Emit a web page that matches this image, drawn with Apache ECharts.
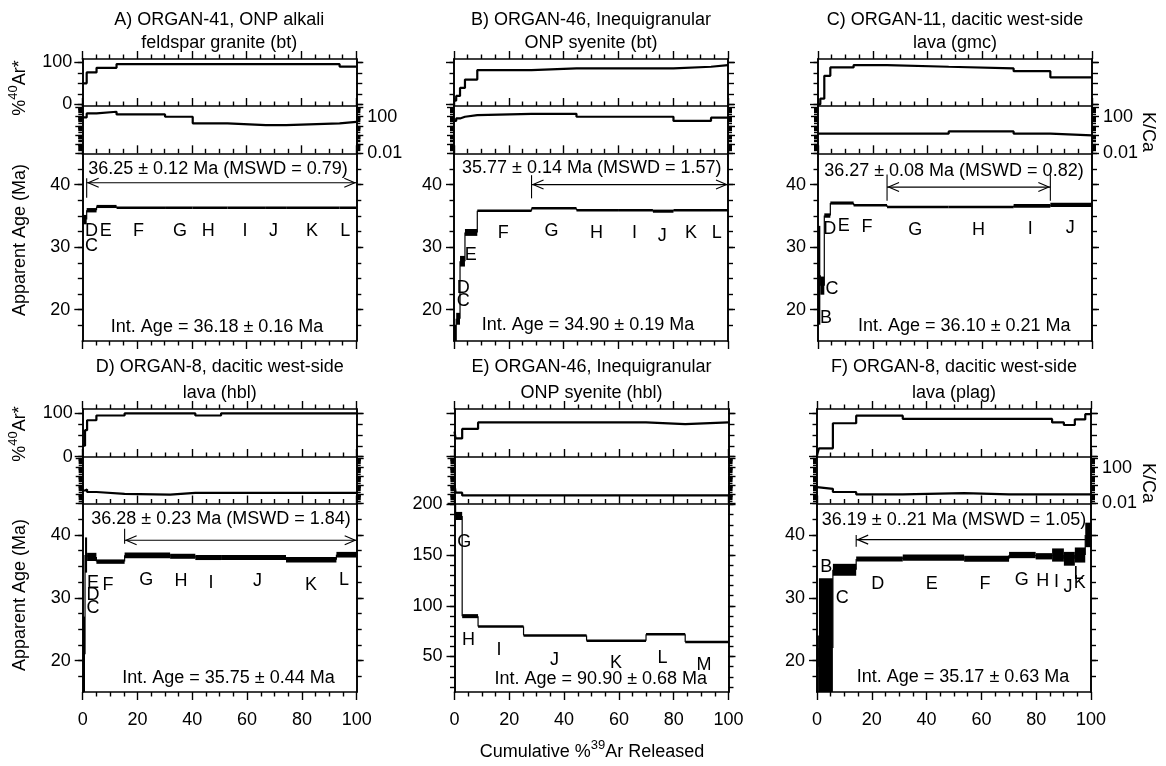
<!DOCTYPE html>
<html><head><meta charset="utf-8">
<script src="https://cdn.jsdelivr.net/npm/echarts@6/dist/echarts.min.js"></script>
<style>html,body{margin:0;padding:0;background:#fff}#c{width:1166px;height:766px}</style>
</head><body><div id="c"></div>
<script>
// ---------------- DATA ----------------
// Panel A
const A_bounds = [0, 1.6, 5.2, 12.5, 30.2, 40.3, 53, 67, 74.4, 93.9, 100];
const A_age = [34.4, 35.9, 36.5, 36.3, 36.3, 36.3, 36.3, 36.3, 36.3, 36.3];
const A_err = [0.75, 0.35, 0.25, 0.15, 0.15, 0.15, 0.15, 0.15, 0.15, 0.15];
const A_ar40 = [50, 76, 87, 96, 96, 96, 96, 96, 96, 90];
const A_kca = [85, 230, 350, 180, 100, 19, 12, 12, 19, 28];
const A_letters = ['C','D','E','F','G','H','I','J','K','L'];
const A_letterPos = [[3.4,30.2],[3.4,32.6],[8.6,32.6],[20.5,32.6],[35.7,32.6],[46,32.6],[59.4,32.6],[69.8,32.6],[83.8,32.6],[96,32.6]];
const A_plateau = [1.6, 100, 40.3, 41.0, 37.9, 1, 1, 1, 0];
const A_plateauText = '36.25 ± 0.12 Ma (MSWD = 0.79)';
const A_intText = 'Int. Age = 36.18 ± 0.16 Ma';
const A_textPos = [[49.5, 42.5], [49.2, 17.3]];

// Panel B
const B_bounds = [0, 0.8, 2.2, 4.0, 8.5, 28.3, 44.7, 60.2, 72.6, 80.1, 93.8, 100];
const B_age = [12, 18.55, 27.75, 32.35, 35.8, 36.2, 35.9, 35.9, 35.75, 35.9, 35.9];
const B_err = [5.6, 0.95, 0.85, 0.55, 0.15, 0.15, 0.15, 0.15, 0.25, 0.15, 0.15];
const B_ar40 = [9, 20, 39, 59, 81.5, 85.5, 85.5, 85.5, 85.5, 89.5, 93.5];
const B_kca = [35, 65, 100, 150, 210, 210, 100, 100, 100, 35, 80];
const B_letters = ['C','D','E','F','G','H','I','J','K','L'];
const B_letterPos = [[3.4,21.4],[3.4,23.5],[6.1,28.8],[18,32.2],[35.6,32.5],[52,32.2],[65.9,32.2],[76,31.85],[86.5,32.2],[95.9,32.2]];
const B_plateau = [28.3, 100, 40.0, 41.5, 37.8, 1, 1, 1, 0];
const B_plateauText = '35.77 ± 0.14 Ma (MSWD = 1.57)';
const B_intText = 'Int. Age = 34.90 ± 0.19 Ma';
const B_textPos = [[50.3, 42.7], [48.9, 17.5]];

// Panel C
const C_bounds = [0, 0.85, 2.3, 4.5, 13.0, 25.2, 47.7, 71.4, 84.8, 100];
const C_age = [25.5, 23.85, 35.05, 37.05, 36.7, 36.4, 36.4, 36.6, 36.75];
const C_err = [7.9, 1.45, 0.35, 0.25, 0.15, 0.15, 0.15, 0.3, 0.35];
const C_ar40 = [0, 13.5, 68, 88, 93.5, 89.5, 85.5, 79, 64];
const C_kca = [1.4, 1.4, 1.4, 1.4, 1.4, 1.4, 2.5, 1.4, 0.9];
const C_letters = ['B','C','D','E','F','G','H','I','J'];
const C_letterPos = [[2.9,18.7],[5.1,23.3],[4.3,32.9],[9.4,33.3],[17.9,33.2],[35.5,32.7],[58.6,32.7],[77.5,32.9],[92.1,33.05]];
const C_plateau = [25.2, 84.8, 39.6, 41.6, 37.4, 1, 1, 1, 1];
const C_plateauText = '36.27 ± 0.08 Ma (MSWD = 0.82)';
const C_intText = 'Int. Age = 36.10 ± 0.21 Ma';
const C_textPos = [[49.6, 42.2], [53.4, 17.4]];

// Panel D
const D_bounds = [0, 0.85, 1.6, 5.0, 15.3, 31.9, 41.1, 50.5, 74.2, 92.6, 100];
const D_age = [21, 36.8, 36.5, 35.75, 36.75, 36.6, 36.4, 36.4, 36.05, 36.85];
const D_err = [6, 2.8, 0.65, 0.35, 0.45, 0.4, 0.4, 0.4, 0.45, 0.45];
const D_ar40 = [25, 61, 84, 95, 100, 100, 95, 100, 100, 100];
const D_kca = [0.28, 0.36, 0.19, 0.12, 0.095, 0.15, 0.15, 0.15, 0.15, 0.15];
const D_letters = ['C','D','E','F','G','H','I','J','K','L'];
const D_letterPos = [[3.8,28.4],[3.8,30.5],[3.8,32.4],[9.2,32],[23.2,32.8],[35.9,32.7],[46.8,32.4],[63.8,32.7],[83.3,32.1],[95.4,32.8]];
const D_plateau = [15.3, 100, 39.15, 41.0, 38.6, 1, 1, 1, 0];
const D_plateauText = '36.28 ± 0.23 Ma (MSWD = 1.84)';
const D_intText = 'Int. Age = 35.75 ± 0.44 Ma';
const D_textPos = [[50.5, 42.55], [53.2, 17.2]];

// Panel E
const E_bounds = [0, 0.4, 2.8, 8.6, 25.2, 48.2, 69.9, 84.2, 100];
const E_age = [260, 188.7, 89.85, 79.7, 70.8, 65.6, 72, 64.3];
const E_err = [30, 4, 2, 1, 1, 1, 1, 1];
const E_ar40 = [58, 42, 64, 79, 79, 79, 75, 79];
const E_kca = [1.3, 0.16, 0.08, 0.08, 0.08, 0.08, 0.08, 0.08];
const E_letters = ['G','H','I','J','K','L','M'];
const E_letterPos = [[3.6,163.3],[5.1,66.6],[16.2,56.7],[36.5,46.9],[58.9,43.6],[75.9,48.5],[91.1,42]];
const E_plateau = null;
const E_plateauText = '';
const E_intText = 'Int. Age = 90.90 ± 0.68 Ma';
const E_textPos = [null, [53.4, 28.2]];

// Panel F
const F_bounds = [0, 0.7, 5.8, 14.3, 31.3, 53.7, 70.1, 79.8, 85.8, 90.1, 94.1, 97.9, 100];
const F_age = [19, 22, 34.45, 36.15, 36.4, 36.2, 36.8, 36.6, 36.8, 36.2, 36.8, 40.0];
const F_err = [5, 11.1, 0.95, 0.4, 0.5, 0.48, 0.5, 0.5, 1.05, 1.1, 1.2, 1.95];
const F_ar40 = [4, 19, 77, 94.5, 87, 87, 87, 87, 79, 73, 86, 98];
const F_kca = [0.66, 0.43, 0.19, 0.105, 0.14, 0.105, 0.105, 0.105, 0.105, 0.105, 0.105, 0.105];
const F_letters = ['B','C','D','E','F','G','H','I','J','K','L'];
const F_letterPos = [[3.4,34.85],[9.2,29.9],[22.2,32.2],[41.9,32.2],[61.3,32.2],[74.7,32.8],[82.4,32.6],[87.4,32.5],[91.6,31.7],[95.9,32.4],[95.4,33.8]];
const F_plateau = [14.3, 97.9, 39.25, 40.0, 38.1, 1, 0, 1, 0];
const F_plateauText = '36.19 ± 0..21 Ma (MSWD = 1.05)';
const F_intText = 'Int. Age = 35.17 ± 0.63 Ma';
const F_textPos = [[50, 42.3], [53.3, 17.35]];

// Titles
const TITLES = [
  ['A) ORGAN-41, ONP alkali', 'feldspar granite (bt)'],
  ['B) ORGAN-46, Inequigranular', 'ONP syenite (bt)'],
  ['C) ORGAN-11, dacitic west-side', 'lava (gmc)'],
  ['D) ORGAN-8, dacitic west-side', 'lava (hbl)'],
  ['E) ORGAN-46, Inequigranular', 'ONP syenite (hbl)'],
  ['F) ORGAN-8, dacitic west-side', 'lava (plag)']
];

// Ticks / tick labels
const X_TICK_INTERVAL = 20;
const AGE_MAJOR = [20, 30, 40];
const AGE_MINOR = [17.5, 20, 22.5, 25, 27.5, 30, 32.5, 35, 37.5, 40, 42.5, 45];
const E_AGE_MAJOR = [50, 100, 150, 200];
const E_AGE_MINOR = [20, 30, 40, 50, 60, 70, 80, 90, 100, 110, 120, 130, 140, 150, 160, 170, 180, 190, 200];
const AR_MAJOR = [0, 100];
const AR_MINOR = [0, 25, 50, 75, 100];
const KCA_MAJOR = [0.01, 0.1, 1, 10, 100, 1000];
const KCA_LABELS = [0.01, 100];
const KCA_MINOR = [];
[0.01, 0.1, 1, 10, 100].forEach(d => { for (let m = 2; m <= 9; m++) KCA_MINOR.push(+(d * m).toPrecision(3)); });

// ---------------- LAYOUT ----------------
const FONT = "'Liberation Sans', Arial, Helvetica, sans-serif";
const FS = 18;
const PANEL_W = 274;
const PANEL_LEFT = [82.3, 454, 818, 82.7, 454.5, 817];
const ROWS = [
  {arTop:59, arH:47, kcTop:106, kcH:47.3, agTop:153.3, agH:187.7, arMin:-4, arMax:108, t1:20, t2:43, arT:88, ageT:240, kcT:132},
  {arTop:409, arH:48, kcTop:457, kcH:46.5, agTop:503.5, agH:188.5, arMin:-1, arMax:110, t1:367, t2:393, arT:434, ageT:595, kcT:483}
];

const PANELS = [
  {row:0, bounds:A_bounds, age:A_age, err:A_err, ar:A_ar40, kca:A_kca, letters:A_letters, lpos:A_letterPos, plateau:A_plateau, ptext:A_plateauText, itext:A_intText, tpos:A_textPos, arLabels:true, kcRight:true, ageRange:[15,45]},
  {row:0, bounds:B_bounds, age:B_age, err:B_err, ar:B_ar40, kca:B_kca, letters:B_letters, lpos:B_letterPos, plateau:B_plateau, ptext:B_plateauText, itext:B_intText, tpos:B_textPos, arLabels:false, kcRight:false, ageRange:[15,45]},
  {row:0, bounds:C_bounds, age:C_age, err:C_err, ar:C_ar40, kca:C_kca, letters:C_letters, lpos:C_letterPos, plateau:C_plateau, ptext:C_plateauText, itext:C_intText, tpos:C_textPos, arLabels:false, kcRight:true, ageRange:[15,45]},
  {row:1, bounds:D_bounds, age:D_age, err:D_err, ar:D_ar40, kca:D_kca, letters:D_letters, lpos:D_letterPos, plateau:D_plateau, ptext:D_plateauText, itext:D_intText, tpos:D_textPos, arLabels:true, kcRight:false, ageRange:[15,45]},
  {row:1, bounds:E_bounds, age:E_age, err:E_err, ar:E_ar40, kca:E_kca, letters:E_letters, lpos:E_letterPos, plateau:E_plateau, ptext:E_plateauText, itext:E_intText, tpos:E_textPos, arLabels:false, kcRight:false, ageRange:[15,201], big:true},
  {row:1, bounds:F_bounds, age:F_age, err:F_err, ar:F_ar40, kca:F_kca, letters:F_letters, lpos:F_letterPos, plateau:F_plateau, ptext:F_plateauText, itext:F_intText, tpos:F_textPos, arLabels:false, kcRight:true, ageRange:[15,45]}
];

// ---------------- BUILD ----------------
const grids = [], xAxes = [], yAxes = [], series = [], graphics = [];
const BLACK = '#000';

function addX(gi, pos, labels) {
  xAxes.push({
    gridIndex: gi, type: 'value', position: pos, min: 0, max: 100, interval: X_TICK_INTERVAL,
    axisLine: {show: true, onZero: false, lineStyle: {color: BLACK, width: 1.6}},
    axisTick: {show: true, inside: false, length: 8, lineStyle: {color: BLACK, width: 1.4}},
    minorTick: {show: true, splitNumber: 4, length: 4.5, lineStyle: {color: BLACK, width: 1.4}},
    axisLabel: {show: labels, margin: 19, fontSize: FS, fontFamily: FONT, color: BLACK},
    splitLine: {show: false}, minorSplitLine: {show: false}, axisPointer: {show: false}
  });
  return xAxes.length - 1;
}
function addY(gi, pos, type, min, max, ticks, len, labels, margin) {
  const ax = {
    gridIndex: gi, type: type, position: pos, min: min, max: max, offset: 0,
    axisLine: {show: true, onZero: false, lineStyle: {color: BLACK, width: 1.6}},
    axisTick: {show: true, inside: false, length: len, customValues: ticks, lineStyle: {color: BLACK, width: 1.4}},
    axisLabel: labels ? {show: true, customValues: labels, margin: margin, fontSize: FS, fontFamily: FONT, color: BLACK} : {show: false},
    splitLine: {show: false}, minorTick: {show: false}, minorSplitLine: {show: false}, axisPointer: {show: false}
  };
  if (type === 'log') ax.logBase = 10;
  yAxes.push(ax);
  return yAxes.length - 1;
}

function stepPoints(bounds, vals) {
  const pts = vals.map((v, k) => [bounds[k], v]);
  pts.push([bounds[bounds.length - 1], vals[vals.length - 1]]);
  return pts;
}

function renderSteps(params, api) {
  const cs = params.coordSys;
  const x0 = api.value(0), x1 = api.value(1), a = api.value(2), e = api.value(3), pa = api.value(4);
  const pTop = api.coord([x0, a + e]);
  const pBot = api.coord([x1, a - e]);
  const pm = api.coord([x0, a]);
  const pp = api.coord([x0, pa]);
  let y0 = pTop[1], y1 = pBot[1];
  const MIN_H = 2.5;
  if (y1 - y0 < MIN_H) { const m = (y0 + y1) / 2; y0 = m - MIN_H / 2; y1 = m + MIN_H / 2; }
  const children = [];
  const r = echarts.graphic.clipRectByRect(
    {x: pTop[0], y: y0, width: Math.max(pBot[0] - pTop[0], 1.6), height: y1 - y0},
    {x: cs.x, y: cs.y, width: cs.width, height: cs.height});
  if (r) children.push({type: 'rect', shape: r, style: {fill: BLACK}});
  const ya = Math.max(Math.min(pp[1], pm[1]), cs.y);
  const yb = Math.min(Math.max(pp[1], pm[1]), cs.y + cs.height);
  if (yb > ya + 0.5) children.push({type: 'line', shape: {x1: pm[0], y1: ya, x2: pm[0], y2: yb}, style: {stroke: BLACK, lineWidth: 1.2}});
  return {type: 'group', children: children};
}

function renderPlateau(params, api) {
  const v = [];
  for (let k = 0; k < 9; k++) v.push(api.value(k));
  const s = api.coord([v[0], v[2]]), e = api.coord([v[1], v[2]]);
  const st = {stroke: BLACK, lineWidth: 1.1, fill: null};
  const ch = [{type: 'line', shape: {x1: s[0], y1: s[1], x2: e[0], y2: e[1]}, style: st}];
  if (v[5]) ch.push({type: 'polyline', shape: {points: [[s[0] + 12, s[1] - 4.5], [s[0] + 1.5, s[1]], [s[0] + 12, s[1] + 4.5]]}, style: st});
  if (v[6]) ch.push({type: 'polyline', shape: {points: [[e[0] - 12, e[1] - 4.5], [e[0] - 1.5, e[1]], [e[0] - 12, e[1] + 4.5]]}, style: st});
  if (v[7]) { const h = api.coord([v[0], v[3]]), l = api.coord([v[0], v[4]]); ch.push({type: 'line', shape: {x1: h[0], y1: h[1], x2: l[0], y2: l[1]}, style: st}); }
  if (v[8]) { const h = api.coord([v[1], v[3]]), l = api.coord([v[1], v[4]]); ch.push({type: 'line', shape: {x1: h[0], y1: h[1], x2: l[0], y2: l[1]}, style: st}); }
  return {type: 'group', children: ch};
}

function textSeries(xi, yi, positions, texts) {
  const data = [], strs = [];
  positions.forEach((p, k) => { if (p) { data.push(p); strs.push(texts[k]); } });
  return {
    type: 'custom', xAxisIndex: xi, yAxisIndex: yi, silent: true, z: 5, data: data,
    renderItem: (params, api) => {
      const c = api.coord([api.value(0), api.value(1)]);
      return {type: 'text', x: c[0], y: c[1], style: {text: strs[params.dataIndex], fontSize: FS, fontFamily: FONT, fill: BLACK, align: 'center', verticalAlign: 'middle', textAlign: 'center', textVerticalAlign: 'middle'}};
    }
  };
}

const measureCtx = document.createElement('canvas').getContext('2d');
function tw(t, size) { measureCtx.font = size + 'px ' + FONT; return measureCtx.measureText(t).width; }
function supText(x, y, rotation, parts) {
  const SUP = 13;
  const widths = parts.map(p => tw(p.t, p.sup ? SUP : FS));
  const total = widths.reduce((a, b) => a + b, 0);
  let cx = -total / 2;
  const children = parts.map((p, k) => {
    const el = {type: 'text', x: cx, y: p.sup ? -7 : 0, style: {text: p.t, fontSize: p.sup ? SUP : FS, fontFamily: FONT, fill: BLACK, align: 'left', verticalAlign: 'middle', textAlign: 'left', textVerticalAlign: 'middle'}};
    cx += widths[k];
    return el;
  });
  return {type: 'group', x: x, y: y, rotation: rotation, children: children};
}
function plainText(x, y, text, rotation) {
  return {type: 'text', x: x, y: y, rotation: rotation || 0, style: {text: text, fontSize: FS, fontFamily: FONT, fill: BLACK, align: 'center', verticalAlign: 'middle', textAlign: 'center', textVerticalAlign: 'middle'}};
}

PANELS.forEach((p, i) => {
  const row = ROWS[p.row];
  const left = PANEL_LEFT[i];
  const gAr = grids.length;
  grids.push({left: left, top: row.arTop, width: PANEL_W, height: row.arH});
  grids.push({left: left, top: row.kcTop, width: PANEL_W, height: row.kcH});
  grids.push({left: left, top: row.agTop, width: PANEL_W, height: row.agH});
  const gKc = gAr + 1, gAg = gAr + 2;

  // %40Ar*
  const xAr = addX(gAr, 'top', false);
  const yAr = addY(gAr, 'left', 'value', row.arMin, row.arMax, AR_MAJOR, 8, p.arLabels ? AR_MAJOR : null, 10);
  addY(gAr, 'left', 'value', row.arMin, row.arMax, AR_MINOR, 4.5, null);
  addY(gAr, 'right', 'value', row.arMin, row.arMax, AR_MAJOR, 7, null);
  addY(gAr, 'right', 'value', row.arMin, row.arMax, AR_MINOR, 6, null);
  series.push({type: 'line', xAxisIndex: xAr, yAxisIndex: yAr, step: 'end', symbol: 'none', silent: true, data: stepPoints(p.bounds, p.ar), lineStyle: {color: BLACK, width: 2.2}, z: 3});

  // K/Ca
  const xKc = addX(gKc, 'top', false);
  const yKc = addY(gKc, 'left', 'log', 0.01, 1500, KCA_MAJOR, 7, null);
  addY(gKc, 'left', 'log', 0.01, 1500, KCA_MINOR, 4, null);
  addY(gKc, 'right', 'log', 0.01, 1500, KCA_MAJOR, 7, p.kcRight ? KCA_LABELS : null, 11);
  addY(gKc, 'right', 'log', 0.01, 1500, KCA_MINOR, 4, null);
  series.push({type: 'line', xAxisIndex: xKc, yAxisIndex: yKc, step: 'end', symbol: 'none', silent: true, data: stepPoints(p.bounds, p.kca), lineStyle: {color: BLACK, width: 2.2}, z: 3});

  // Age
  const xAg = addX(gAg, 'top', false);
  addX(gAg, 'bottom', p.row === 1);
  const maj = p.big ? E_AGE_MAJOR : AGE_MAJOR, mnr = p.big ? E_AGE_MINOR : AGE_MINOR;
  const yAg = addY(gAg, 'left', 'value', p.ageRange[0], p.ageRange[1], maj, 8, maj, 12);
  addY(gAg, 'left', 'value', p.ageRange[0], p.ageRange[1], mnr, 4.5, null);
  addY(gAg, 'right', 'value', p.ageRange[0], p.ageRange[1], maj, 7, null);
  addY(gAg, 'right', 'value', p.ageRange[0], p.ageRange[1], mnr, 5, null);

  const stepData = p.age.map((a, k) => [p.bounds[k], p.bounds[k + 1], a, p.err[k], k ? p.age[k - 1] : a]);
  series.push({type: 'custom', xAxisIndex: xAg, yAxisIndex: yAg, silent: true, z: 3, data: stepData, renderItem: renderSteps});
  if (p.plateau) series.push({type: 'custom', xAxisIndex: xAg, yAxisIndex: yAg, silent: true, z: 4, data: [p.plateau], renderItem: renderPlateau});
  series.push(textSeries(xAg, yAg, p.lpos, p.letters));
  series.push(textSeries(xAg, yAg, p.tpos, [p.ptext, p.itext]));

  // titles
  const cx = left + PANEL_W / 2;
  graphics.push(plainText(cx, row.t1, TITLES[i][0]));
  graphics.push(plainText(cx, row.t2, TITLES[i][1]));
});

// Axis titles
[0, 1].forEach(r => {
  const row = ROWS[r];
  graphics.push(supText(20, row.arT, Math.PI / 2, [{t: '%'}, {t: '40', sup: true}, {t: 'Ar*'}]));
  graphics.push(plainText(20, row.ageT, 'Apparent Age (Ma)', Math.PI / 2));
  graphics.push(plainText(1148, row.kcT, 'K/Ca', -Math.PI / 2));
});
graphics.push(supText(592, 752, 0, [{t: 'Cumulative %'}, {t: '39', sup: true}, {t: 'Ar Released'}]));

const chart = echarts.init(document.getElementById('c'), null, {renderer: 'canvas', width: 1166, height: 766});
chart.setOption({
  animation: false,
  backgroundColor: '#fff',
  grid: grids, xAxis: xAxes, yAxis: yAxes, series: series,
  graphic: {elements: graphics}
});
</script>
</body></html>
